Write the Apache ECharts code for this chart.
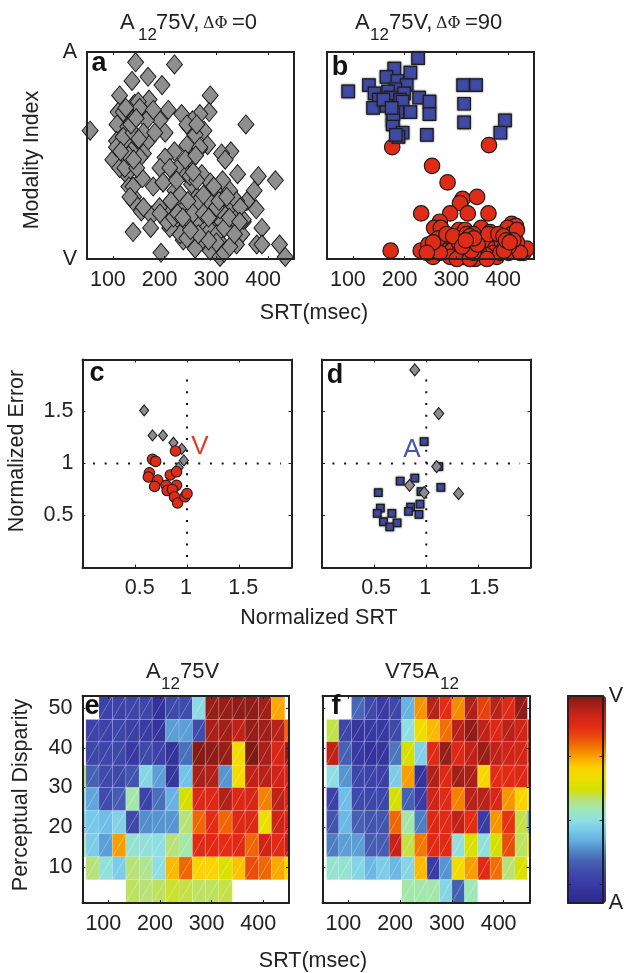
<!DOCTYPE html>
<html>
<head>
<meta charset="utf-8">
<style>
  html, body { margin: 0; padding: 0; background: #fff; }
  #chart { width: 626px; height: 973px; }
</style>
</head>
<body>
<div id="chart"></div>
<script src="https://cdn.jsdelivr.net/npm/echarts@6/dist/echarts.min.js"></script>
<script>
// panel a: [SRT, modality index], all sessions
const diamondsA = [[144,95],[219,94],[168,88],[137,86],[195,84],[288,79],[113,79],[170,77],[142,75],[149,76],[286,71],[207,72],[110,71],[159,70],[233,70],[268,70],[254,67],[129,69],[191,67],[357,65],[108,65],[56,62],[246,64],[276,62],[129,64],[201,61],[147,58],[107,57],[259,60],[283,55],[126,56],[168,57],[243,55],[267,53],[328,52],[310,51],[317,48],[219,52],[100,48],[159,51],[136,52],[122,46],[201,49],[191,44],[126,41],[226,44],[210,44],[249,47],[272,41],[157,39],[178,35],[341,41],[381,40],[414,38],[197,37],[243,41],[131,35],[288,37],[312,38],[373,33],[140,30],[220,33],[301,32],[326,33],[252,36],[139,28],[207,25],[220,28],[263,30],[286,28],[359,28],[377,24],[155,23],[175,21],[190,25],[265,24],[326,24],[236,27],[339,28],[310,28],[294,19],[352,18],[388,15],[139,13],[173,15],[217,16],[239,15],[268,18],[281,15],[326,15],[349,12],[304,9],[252,9],[272,9],[236,9],[339,7],[378,7],[388,7],[422,7],[433,1],[193,3],[259,5],[288,4],[307,1],[315,3],[230,12],[210,15],[204,18],[307,19],[352,19],[294,22],[346,25],[307,24],[217,20],[243,20],[262,27],[275,31],[230,31],[197,37],[249,40],[262,38],[223,38],[107,54],[120,59],[152,49],[113,44],[123,44],[146,44],[139,35],[133,30],[159,25],[191,22],[268,54],[243,65],[262,65],[120,71],[152,73],[165,67],[178,72],[139,61],[159,61],[181,61],[288,14],[243,10],[301,12],[326,6],[336,19],[245,28],[255,22],[275,22],[285,20],[300,25],[315,15],[325,20],[345,18],[335,12],[300,8],[285,9],[265,12],[250,14],[225,22],[235,20],[212,28],[295,35],[305,28],[320,30],[130,50],[115,52],[140,48],[150,58],[135,65],[125,73],[145,68],[255,42],[240,48],[260,50]];

// panel b
const circlesB = [[176,54],[363,55],[253,45],[283,37],[312,29],[340,30],[307,27],[232,22],[288,22],[322,22],[362,22],[268,18],[257,15],[270,15],[305,14],[317,14],[348,15],[407,17],[415,16],[399,15],[365,13],[173,4],[231,4],[246,7],[246,3],[255,1],[277,7],[277,4],[291,4],[305,8],[305,3],[314,1],[328,2],[336,0],[326,7],[339,8],[349,7],[361,8],[375,5],[372,3],[388,8],[398,7],[404,7],[410,5],[401,3],[430,3],[436,5],[417,8],[378,1],[356,2],[288,1],[268,3],[265,10],[281,12],[294,11],[320,12],[333,12],[362,12],[381,12],[407,12],[417,14],[333,5],[343,4],[326,11],[339,3],[385,3],[394,5],[255,8],[243,3],[301,0],[326,0],[359,0],[423,3],[410,9],[391,11],[332,8],[335,7],[331,5],[336,5],[328,6],[398,7],[401,6],[394,6],[330,9],[337,6],[333,3],[329,4],[341,7],[334,10],[392,4],[396,9],[403,8],[311,6],[318,9]];
const squaresB = [[226,97],[180,92],[211,90],[165,88],[186,86],[131,84],[313,84],[338,84],[91,81],[204,84],[182,82],[168,81],[199,80],[142,80],[150,77],[173,78],[191,77],[228,78],[248,76],[315,75],[139,73],[165,74],[196,76],[186,71],[211,71],[248,70],[177,67],[315,66],[394,67],[177,65],[196,61],[243,60],[385,61],[188,59],[183,60],[178,70],[159,77],[175,73]];

// panel c: [normalized SRT, normalized error]
const diamondsC = [[0.59,1.51],[0.67,1.27],[0.77,1.27],[0.87,1.2],[0.95,1.14],[0.97,1.03],[0.92,0.96],[0.86,0.76]];
const circlesC = [[0.89,1.12],[0.67,1.04],[0.7,1.02],[0.64,0.91],[0.63,0.87],[0.72,0.84],[0.69,0.78],[0.84,0.89],[0.9,0.92],[0.8,0.79],[0.9,0.79],[0.81,0.74],[0.86,0.75],[0.88,0.68],[0.91,0.62],[0.98,0.68],[1,0.71]];

// panel d
const squaresD = [[0.98,1.21],[1.12,0.97],[1.14,0.77],[0.75,0.83],[0.89,0.86],[0.54,0.72],[0.95,0.73],[0.94,0.61],[0.85,0.58],[0.83,0.54],[0.93,0.51],[0.56,0.57],[0.53,0.52],[0.67,0.52],[0.59,0.44],[0.72,0.43],[0.65,0.39]];
const diamondsD = [[0.89,1.9],[1.12,1.48],[1.1,0.97],[0.84,0.79],[0.98,0.72],[1.31,0.71]];

const crossH = [[0.1,1],[1.9,1]];
const crossV = [[1,0.1],[1,1.9]];

// heat maps: rows run top to bottom, 0 = A ... 100 = V, null = no trials
const rowEdges = [53,47.1,41.5,35.6,30,24.2,18.4,12.6,6.85,1];
const colEdgesE = [31,56.5,82,108,134,160,185,211,237,263,288,314,340,365,391,416,442,468];
const colEdgesF = [33,57.7,81.5,106,131,155,179,203,227.5,252,276,300,324.5,350,374,397,422,446,470];
const heatE = [
  [null,null,12,12,13,13,5,14,15,39,97,97,98,98,96,70,null],
  [null,12,12,13,11,10,7,28,28,15,95,96,92,97,96,93,78],
  [null,13,13,13,8,14,12,6,22,99,98,97,62,100,95,88,98],
  [50,20,14,14,17,38,28,7,34,95,94,27,62,92,93,90,90],
  [40,29,15,19,46,12,22,31,55,87,87,94,87,88,74,92,90],
  [36,35,33,37,14,26,27,27,50,77,85,77,87,87,60,90,90],
  [46,36,28,71,42,41,40,50,46,86,86,85,86,77,90,86,94],
  [null,50,41,36,50,48,40,68,77,65,65,56,67,80,77,70,65],
  [null,null,null,null,51,50,51,53,52,51,51,52,null,null,null,null,null]
];
const heatF = [
  [null,null,null,21,14,9,13,31,72,93,85,73,94,82,93,86,98,null],
  [null,52,13,7,8,8,14,40,61,68,76,93,98,92,87,93,90,90],
  [null,92,20,8,5,7,23,55,37,86,97,87,92,97,92,90,89,89],
  [null,40,27,13,12,11,36,71,6,94,87,96,95,64,85,86,87,87],
  [null,12,33,14,13,13,55,20,10,90,86,74,93,93,88,72,65,60],
  [null,17,32,20,17,17,77,46,24,87,86,92,85,10,72,84,52,28],
  [null,24,28,28,19,19,91,52,75,86,86,41,56,41,55,80,51,58],
  [null,42,42,38,32,36,32,38,68,10,27,62,71,86,76,50,56,null],
  [null,null,null,null,null,null,null,46,46,46,38,20,45,null,null,null,null,null]
];

const jetColors = ['#2c2a8c','#33319a','#3a3ca5','#3f4cab','#4660b3','#4f85c6','#64aee0','#78c8ea','#90dee2','#9fe8b8','#b8e278','#d6e000','#ecdf00','#fbd400','#fba800','#f27800','#ea4c0c','#e42c14','#d02418','#a82018','#7e1a14'];

const srtTicks = [100,200,300,400];
const normTicks = [0.5,1,1.5];
const disparityTicks = [10,20,30,40,50];
const colorbarTicks = [9,40,71];

const font = '"Liberation Sans", Arial, sans-serif';
const ink = '#222';
const tickSize = 21.5;

const boxes = [
  { left: 87, top: 52, width: 207, height: 207 },
  { left: 327, top: 52, width: 207, height: 207 },
  { left: 82.5, top: 359.5, width: 209, height: 208 },
  { left: 322, top: 359.5, width: 208.5, height: 208 },
  { left: 82.5, top: 696, width: 206.5, height: 207 },
  { left: 322.5, top: 696, width: 207, height: 207 },
  { left: 568, top: 696, width: 38, height: 207 }
];

const grids = boxes.map(b => ({ ...b, show: false }));

function makeAxis(index, type, position, min, max, ticks, label) {
  const axis = {
    type: 'value',
    gridIndex: index,
    position: position,
    min: min,
    max: max,
    z: 6,
    splitLine: { show: false },
    axisLine: { show: true, onZero: false, lineStyle: { color: ink, width: 2 } },
    axisTick: ticks.length
      ? { show: true, inside: true, length: 3, customValues: ticks, lineStyle: { color: ink, width: 1 } }
      : { show: false },
    axisLabel: { show: false }
  };
  if (label) {
    axis.axisLabel = Object.assign({ show: true, color: ink, fontFamily: font, fontSize: tickSize }, label);
  }
  return axis;
}

const srtLabel = { customValues: srtTicks, margin: 10, padding: [0, 10, 0, 0] };

function normLabel(styles) {
  return {
    customValues: normTicks,
    margin: 10,
    formatter: v => `{t${normTicks.indexOf(v)}|${v}}`,
    rich: {
      t0: { fontFamily: font, fontSize: tickSize, color: ink, padding: styles[0] },
      t1: { fontFamily: font, fontSize: tickSize, color: ink, padding: styles[1] },
      t2: { fontFamily: font, fontSize: tickSize, color: ink, padding: styles[2] }
    }
  };
}

const xAxes = [
  makeAxis(0, 'x', 'bottom', 50, 450, srtTicks, srtLabel),
  makeAxis(0, 'x', 'top', 50, 450, srtTicks),
  makeAxis(1, 'x', 'bottom', 50, 450, srtTicks, srtLabel),
  makeAxis(1, 'x', 'top', 50, 450, srtTicks),
  makeAxis(2, 'x', 'bottom', 0, 2, normTicks, normLabel([[0, 0, 0, 10], [0, 2, 0, 0], [0, 0, 0, 8]])),
  makeAxis(2, 'x', 'top', 0, 2, normTicks),
  makeAxis(3, 'x', 'bottom', 0, 2, normTicks, normLabel([[0, 0, 0, 4], [0, 2, 0, 0], [0, 0, 0, 12]])),
  makeAxis(3, 'x', 'top', 0, 2, normTicks),
  makeAxis(4, 'x', 'bottom', 50, 450, srtTicks, srtLabel),
  makeAxis(4, 'x', 'top', 50, 450, srtTicks),
  makeAxis(5, 'x', 'bottom', 50, 450, srtTicks, srtLabel),
  makeAxis(5, 'x', 'top', 50, 450, srtTicks),
  makeAxis(6, 'x', 'bottom', 0, 1, []),
  makeAxis(6, 'x', 'top', 0, 1, [])
];

const modalityLabel = {
  customValues: [0, 100],
  margin: 10,
  padding: [6, 0, 0, 0],
  formatter: v => (v === 100 ? 'A' : 'V')
};

const yAxes = [
  makeAxis(0, 'y', 'left', 0, 100, [], modalityLabel),
  makeAxis(0, 'y', 'right', 0, 100, []),
  makeAxis(1, 'y', 'left', 0, 100, []),
  makeAxis(1, 'y', 'right', 0, 100, []),
  makeAxis(2, 'y', 'left', 0, 2, normTicks, { customValues: normTicks, margin: 9 }),
  makeAxis(2, 'y', 'right', 0, 2, normTicks),
  makeAxis(3, 'y', 'left', 0, 2, normTicks),
  makeAxis(3, 'y', 'right', 0, 2, normTicks),
  makeAxis(4, 'y', 'left', 1, 53, disparityTicks, { customValues: disparityTicks, margin: 10, padding: [3, 0, 0, 0] }),
  makeAxis(4, 'y', 'right', 1, 53, disparityTicks),
  makeAxis(5, 'y', 'left', 1, 53, disparityTicks),
  makeAxis(5, 'y', 'right', 1, 53, disparityTicks),
  makeAxis(6, 'y', 'left', 0, 100, colorbarTicks),
  makeAxis(6, 'y', 'right', 0, 100, colorbarTicks, {
    customValues: [0, 100],
    margin: 6,
    padding: [4, 0, 0, 0],
    formatter: v => (v === 100 ? 'V' : 'A')
  })
];

function scatter(panel, data, symbol, size, fill, borderWidth, z, halo) {
  const itemStyle = { color: fill, borderColor: '#1c1c1c', borderWidth: borderWidth, opacity: 1 };
  if (halo) {
    itemStyle.shadowColor = 'rgba(60,60,60,0.8)';
    itemStyle.shadowBlur = 2;
  }
  return {
    type: 'scatter',
    xAxisIndex: panel * 2,
    yAxisIndex: panel * 2,
    data: data,
    symbol: symbol,
    symbolSize: size,
    clip: false,
    silent: true,
    z: z,
    itemStyle: itemStyle
  };
}

function crossLine(panel, data) {
  return {
    type: 'line',
    xAxisIndex: panel * 2,
    yAxisIndex: panel * 2,
    data: data,
    showSymbol: false,
    silent: true,
    z: 1,
    lineStyle: { color: '#111', width: 2, type: [2, 9.7] }
  };
}

function heatSeries(panel, rows, colEdges) {
  const cells = [];
  rows.forEach((row, r) => row.forEach((v, c) => {
    if (v !== null) cells.push([c, r, v]);
  }));
  return {
    type: 'custom',
    xAxisIndex: panel * 2,
    yAxisIndex: panel * 2,
    data: cells,
    clip: true,
    silent: true,
    z: 2,
    renderItem: (params, api) => {
      const c = api.value(0);
      const r = api.value(1);
      const tl = api.coord([colEdges[c], rowEdges[r]]);
      const br = api.coord([colEdges[c + 1], rowEdges[r + 1]]);
      return {
        type: 'group',
        children: [
          {
            type: 'rect',
            shape: { x: tl[0], y: tl[1], width: br[0] - tl[0], height: br[1] - tl[1] },
            style: { fill: api.visual('color'), stroke: 'rgba(255,255,255,0.14)', lineWidth: 1 }
          },
          {
            type: 'line',
            shape: { x1: tl[0], y1: br[1], x2: br[0], y2: tl[1] },
            style: { stroke: 'rgba(255,255,255,0.28)', lineWidth: 1 }
          }
        ]
      };
    }
  };
}

const series = [
  scatter(0, diamondsA, 'diamond', [16, 19], '#8f8f8f', 1, 3),
  scatter(1, circlesB, 'circle', 15.5, '#e02c16', 1.2, 3),
  scatter(1, squaresB, 'rect', 12.5, '#3f4aa8', 1.2, 4, true),
  crossLine(2, crossH),
  crossLine(2, crossV),
  scatter(2, diamondsC, 'diamond', [9, 11], '#8c8c8c', 1.1, 3),
  scatter(2, circlesC, 'circle', 10.5, '#e02c16', 1.1, 4),
  crossLine(3, crossH),
  crossLine(3, crossV),
  scatter(3, squaresD, 'rect', 7.5, '#3f4aa8', 1.3, 3, true),
  scatter(3, diamondsD, 'diamond', [10, 12], '#8c8c8c', 1.1, 4),
  heatSeries(4, heatE, colEdgesE),
  heatSeries(5, heatF, colEdgesF)
];
const heatIndexes = [series.length - 2, series.length - 1];

function text(content, x, y, extra) {
  const style = Object.assign({
    text: content,
    x: 0,
    y: 0,
    align: 'center',
    verticalAlign: 'middle',
    fontFamily: font,
    fontSize: 21.5,
    fill: ink
  }, extra && extra.style);
  return { type: 'text', x: x, y: y, rotation: (extra && extra.rotation) || 0, z: 20, silent: true, style: style };
}

// titles are laid out piece by piece because the subscripts drop well below the line
function piece(content, x, y, size, family) {
  return text(content, x, y, { style: { align: 'left', fontSize: size, fontFamily: family || font } });
}

function letter(content, x, y) {
  return text(content, x, y, { style: { fontWeight: 'bold', fontSize: 27, fill: '#111' } });
}

const labels = [
  piece('A', 120, 23, 22),
  piece('12', 138, 35, 17),
  piece('75V,', 156, 23, 22),
  piece('ΔΦ', 203, 24, 16, '"DejaVu Serif", serif'),
  piece('=0', 232, 23, 22),
  piece('A', 355, 23, 22),
  piece('12', 370, 35, 17),
  piece('75V,', 389, 23, 22),
  piece('ΔΦ', 436, 24, 16, '"DejaVu Serif", serif'),
  piece('=90', 465, 23, 22),
  piece('A', 146, 672, 22),
  piece('12', 161, 684, 17),
  piece('75V', 180, 672, 22),
  piece('V75A', 385, 672, 22),
  piece('12', 440, 684, 17),
  text('SRT(msec)', 314, 313),
  text('Normalized SRT', 319, 618),
  text('SRT(msec)', 313, 961),
  text('Modality Index', 32, 160, { rotation: Math.PI / 2 }),
  text('Normalized Error', 17, 451, { rotation: Math.PI / 2 }),
  text('Perceptual Disparity', 21, 795, { rotation: Math.PI / 2 }),
  text('V', 200, 447, { style: { fontSize: 26, fill: '#e23b2a' } }),
  text('A', 412, 450, { style: { fontSize: 26, fill: '#4a55b5' } }),
  letter('a', 99, 64),
  letter('b', 340, 68),
  letter('c', 97, 374),
  letter('d', 335, 376),
  letter('e', 92, 707),
  letter('f', 336, 707)
];

const chart = echarts.init(document.getElementById('chart'), null, { renderer: 'canvas' });
chart.setOption({
  animation: false,
  backgroundColor: '#fff',
  grid: grids,
  xAxis: xAxes,
  yAxis: yAxes,
  visualMap: {
    type: 'continuous',
    min: 0,
    max: 100,
    dimension: 2,
    seriesIndex: heatIndexes,
    inRange: { color: jetColors },
    left: 568,
    top: 696,
    itemWidth: 38,
    itemHeight: 207,
    padding: 0,
    text: null,
    showLabel: false,
    calculable: false,
    hoverLink: false,
    realtime: false,
    z: 1
  },
  graphic: { elements: labels },
  series: series
});
</script>
</body>
</html>
